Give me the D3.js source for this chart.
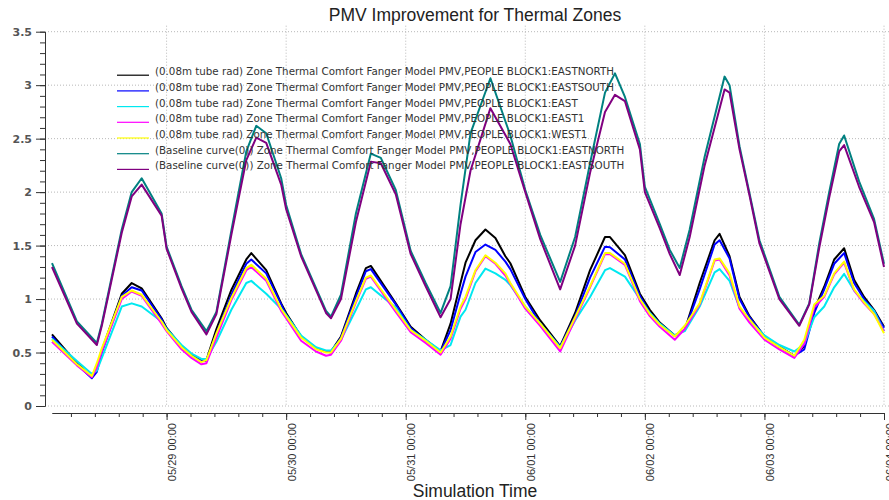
<!DOCTYPE html>
<html>
<head>
<meta charset="UTF-8">
<title>PMV Improvement for Thermal Zones</title>
<script src="https://d3js.org/d3.v7.min.js"></script>
<style>
    body {
        margin: 0;
        background: #fff;
    }

    svg {
        display: block;
        font-family: "Liberation Sans", Arial, sans-serif;
    }

    .grid line {
        stroke: #b8b8b8;
        stroke-dasharray: 1 2;
    }

    .axis path,
    .axis line {
        stroke: #333;
    }

    .axis text {
        fill: #333;
    }

    .axis-y text {
        font-family: "DejaVu Sans", Verdana, sans-serif;
        font-weight: bold;
        font-size: 11px;
        fill: #555;
    }

    .axis-x text {
        font-size: 11px;
    }

    .legend text {
        font-family: "DejaVu Sans", Verdana, sans-serif;
        font-size: 10.3px;
        fill: #333;
    }

    text.title {
        font-size: 17.5px;
        fill: #222;
    }

    text.label {
        font-size: 17.5px;
        fill: #222;
    }

    .series {
        fill: none;
        stroke-width: 2;
        stroke-linejoin: round;
    }
</style>
</head>
<body>
<svg width="889" height="500"></svg>
<script>
    // hours after 05/28 00:00
    const hoursTube = [1, 6, 9, 10, 11, 15, 17, 19, 23, 24, 27, 29, 31, 32, 34, 37, 40, 41, 44, 47, 48, 51, 54, 56, 57, 59,
        62, 64, 65, 70, 73, 76, 79, 81, 83, 84, 86, 88, 90, 92, 93, 96, 99, 103, 106, 109, 112, 113, 116, 119, 121, 123,
        126, 128, 131, 134, 135, 137, 139, 141, 144, 147, 150, 152, 154, 156, 158, 160, 162, 164, 166, 168];

    const tubeEastNorth = [0.67, 0.40, 0.27, 0.35, 0.52, 1.05, 1.15, 1.10, 0.82, 0.73, 0.56, 0.48, 0.42, 0.43, 0.72, 1.085,
        1.37, 1.43, 1.27, 0.96, 0.87, 0.65, 0.54, 0.51, 0.51, 0.65, 1.05, 1.29, 1.31, 0.96, 0.74, 0.62, 0.51, 0.77, 1.15,
        1.34, 1.55, 1.65, 1.57, 1.40, 1.335, 1.02, 0.80, 0.56, 0.87, 1.27, 1.58, 1.58, 1.41, 1.05, 0.90, 0.78, 0.66, 0.71,
        1.15, 1.55, 1.61, 1.40, 1.02, 0.84, 0.65, 0.555, 0.47, 0.56, 0.90, 1.115, 1.37, 1.475, 1.18, 1.02, 0.90, 0.74];
    const tubeEastSouth = [0.65, 0.39, 0.26, 0.32, 0.50, 1.03, 1.11, 1.08, 0.81, 0.72, 0.55, 0.47, 0.42, 0.42, 0.68, 1.04,
        1.33, 1.37, 1.24, 0.95, 0.85, 0.65, 0.54, 0.51, 0.50, 0.64, 1.02, 1.26, 1.28, 0.95, 0.73, 0.61, 0.51, 0.71, 1.05,
        1.21, 1.44, 1.51, 1.46, 1.35, 1.28, 1.00, 0.77, 0.555, 0.84, 1.20, 1.49, 1.485, 1.37, 1.03, 0.87, 0.77, 0.655, 0.71,
        1.09, 1.51, 1.55, 1.38, 1.00, 0.83, 0.65, 0.55, 0.47, 0.53, 0.87, 1.09, 1.33, 1.43, 1.15, 1.00, 0.89, 0.73];
    const tubeEast = [0.63, 0.42, 0.30, 0.33, 0.45, 0.93, 0.96, 0.93, 0.79, 0.72, 0.57, 0.49, 0.44, 0.44, 0.60, 0.90,
        1.15, 1.17, 1.05, 0.91, 0.85, 0.66, 0.55, 0.52, 0.52, 0.62, 0.90, 1.09, 1.11, 0.92, 0.71, 0.62, 0.52, 0.57, 0.835,
        0.90, 1.15, 1.285, 1.24, 1.18, 1.13, 0.93, 0.77, 0.55, 0.80, 1.02, 1.27, 1.29, 1.21, 1.00, 0.87, 0.77, 0.66, 0.70,
        0.93, 1.25, 1.28, 1.17, 0.92, 0.80, 0.66, 0.57, 0.51, 0.58, 0.83, 0.93, 1.11, 1.235, 1.08, 0.98, 0.89, 0.70];
    const tubeEast1 = [0.60, 0.38, 0.27, 0.36, 0.51, 1.00, 1.07, 1.03, 0.77, 0.70, 0.53, 0.45, 0.39, 0.40, 0.64, 0.99,
        1.27, 1.30, 1.17, 0.89, 0.82, 0.61, 0.51, 0.47, 0.48, 0.61, 0.97, 1.19, 1.21, 0.88, 0.69, 0.59, 0.48, 0.63, 0.91,
        1.00, 1.26, 1.40, 1.33, 1.22, 1.14, 0.91, 0.75, 0.51, 0.81, 1.11, 1.42, 1.42, 1.32, 0.98, 0.84, 0.74, 0.62, 0.72,
        0.95, 1.36, 1.37, 1.22, 0.91, 0.78, 0.62, 0.53, 0.45, 0.58, 0.92, 1.02, 1.23, 1.34, 1.08, 0.96, 0.86, 0.70];
    const tubeWest1 = [0.62, 0.39, 0.28, 0.40, 0.54, 1.02, 1.08, 1.04, 0.79, 0.71, 0.55, 0.47, 0.41, 0.43, 0.68, 1.01,
        1.29, 1.32, 1.19, 0.91, 0.84, 0.64, 0.53, 0.50, 0.50, 0.63, 0.98, 1.20, 1.22, 0.90, 0.71, 0.61, 0.50, 0.65, 0.93,
        1.02, 1.27, 1.41, 1.34, 1.24, 1.15, 0.93, 0.77, 0.54, 0.83, 1.12, 1.43, 1.43, 1.33, 1.00, 0.86, 0.76, 0.65, 0.75,
        0.96, 1.37, 1.38, 1.24, 0.93, 0.81, 0.64, 0.55, 0.47, 0.62, 0.95, 1.03, 1.24, 1.35, 1.09, 0.97, 0.86, 0.68];

    const hoursBase = [1, 6, 10, 11, 15, 17, 19, 23, 24, 27, 29, 32, 34, 37, 40, 42, 44, 47, 48, 51, 56, 57, 59, 62, 65,
        67, 70, 73, 76, 79, 81, 83, 85, 89, 93, 96, 99, 103, 106, 109, 112, 114, 116, 119, 120, 123, 125, 127, 129, 132,
        136, 137, 139, 141, 143, 147, 151, 153, 155, 157, 159, 160, 163, 166, 168];

    const baseEastNorth = [1.335, 0.79, 0.59, 0.77, 1.65, 2.0, 2.13, 1.80, 1.49, 1.12, 0.90, 0.70, 0.88, 1.64, 2.38, 2.62,
        2.55, 2.13, 1.88, 1.42, 0.89, 0.835, 1.04, 1.80, 2.36, 2.32, 2.02, 1.45, 1.15, 0.87, 1.12, 1.88, 2.55, 3.065, 2.53,
        2.02, 1.60, 1.16, 1.58, 2.27, 2.93, 3.11, 2.89, 2.45, 2.05, 1.70, 1.46, 1.29, 1.65, 2.33, 3.08, 3.0, 2.43, 1.99,
        1.55, 1.02, 0.76, 0.96, 1.52, 2.0, 2.45, 2.53, 2.1, 1.75, 1.33];
    const baseEastSouth = [1.30, 0.77, 0.57, 0.75, 1.62, 1.96, 2.07, 1.78, 1.47, 1.10, 0.88, 0.67, 0.86, 1.60, 2.30, 2.51,
        2.46, 2.07, 1.84, 1.40, 0.87, 0.82, 1.0, 1.72, 2.285, 2.27, 1.98, 1.42, 1.12, 0.83, 1.0, 1.70, 2.2, 2.785, 2.45,
        2.0, 1.56, 1.09, 1.50, 2.18, 2.75, 2.91, 2.85, 2.40, 2.0, 1.66, 1.42, 1.225, 1.58, 2.25, 2.96, 2.93, 2.40, 1.97,
        1.52, 1.0, 0.75, 0.95, 1.48, 1.95, 2.38, 2.44, 2.05, 1.72, 1.30];

    const seriesNames = [
        "(0.08m tube rad) Zone Thermal Comfort Fanger Model PMV,PEOPLE BLOCK1:EASTNORTH",
        "(0.08m tube rad) Zone Thermal Comfort Fanger Model PMV,PEOPLE BLOCK1:EASTSOUTH",
        "(0.08m tube rad) Zone Thermal Comfort Fanger Model PMV,PEOPLE BLOCK1:EAST",
        "(0.08m tube rad) Zone Thermal Comfort Fanger Model PMV,PEOPLE BLOCK1:EAST1",
        "(0.08m tube rad) Zone Thermal Comfort Fanger Model PMV,PEOPLE BLOCK1:WEST1",
        "(Baseline curve(0)) Zone Thermal Comfort Fanger Model PMV,PEOPLE BLOCK1:EASTNORTH",
        "(Baseline curve(0)) Zone Thermal Comfort Fanger Model PMV,PEOPLE BLOCK1:EASTSOUTH"
    ];
    const dayTicks = ["05/29", "05/30", "05/31", "06/01", "06/02", "06/03", "06/04"];
    const yTicks = [0, 0.5, 1, 1.5, 2, 2.5, 3, 3.5];

    const colours = ["#000000", "#0000ff", "#00e8f0", "#ff00ff", "#ffff00", "#008080", "#800080"];

    const start = new Date(2013, 4, 28, 0, 0);
    const toDate = h => new Date(start.getTime() + h * 3600 * 1000);
    const seriesValues = [tubeEastNorth, tubeEastSouth, tubeEast, tubeEast1, tubeWest1, baseEastNorth, baseEastSouth];
    const seriesHours = [hoursTube, hoursTube, hoursTube, hoursTube, hoursTube, hoursBase, hoursBase];
    const series = seriesNames.map((name, i) => ({
        name: name,
        colour: colours[i],
        points: seriesValues[i].map((v, j) => ({ t: toDate(seriesHours[i][j]), v: v }))
    }));

    const parseDay = d3.timeParse("%Y/%m/%d");
    const dayDates = dayTicks.map(d => parseDay("2013/" + d));

    const svg = d3.select("svg"),
        plotLeft = 45, plotTop = 31.7, plotBottom = 406, plotRight = 889,
        x = d3.scaleTime().domain([toDate(1), toDate(168)]).range([52, 884]),
        y = d3.scaleLinear().domain([0, 3.5]).range([plotBottom, plotTop]);

    // grid
    const grid = svg.append("g").attr("class", "grid");
    grid.selectAll(".h").data(yTicks).enter().append("line")
        .attr("x1", plotLeft).attr("x2", plotRight)
        .attr("y1", d => y(d)).attr("y2", d => y(d));
    grid.selectAll(".v").data(dayDates).enter().append("line")
        .attr("x1", d => x(d)).attr("x2", d => x(d))
        .attr("y1", plotTop - 6).attr("y2", plotBottom);

    // y axis
    svg.append("g")
        .attr("class", "axis axis-y")
        .attr("transform", `translate(${plotLeft},0)`)
        .call(d3.axisLeft(y).tickValues(d3.range(0, 3.51, 0.1)).tickSize(5).tickSizeOuter(0).tickFormat(""));
    svg.append("g")
        .attr("class", "axis axis-y")
        .attr("transform", `translate(${plotLeft},0)`)
        .call(d3.axisLeft(y).tickValues(yTicks).tickSize(9).tickSizeOuter(0).tickPadding(4).tickFormat(d3.format("")));

    // x axis
    const axisY = 413;
    const minor = [];
    for (let k = 1; k < 35; k++) minor.push(new Date(dayDates[0].getTime() - 24 * 3600 * 1000 + k * 4.8 * 3600 * 1000));
    svg.append("g")
        .attr("class", "axis axis-x")
        .attr("transform", `translate(0,${axisY})`)
        .call(d3.axisBottom(x).tickValues(minor.filter(d => d >= x.domain()[0] && d <= x.domain()[1]))
            .tickSize(4).tickSizeOuter(0).tickFormat(""));
    svg.append("g")
        .attr("class", "axis axis-x")
        .attr("transform", `translate(0,${axisY})`)
        .call(d3.axisBottom(x).tickValues(dayDates).tickSize(7).tickSizeOuter(0).tickFormat(d3.timeFormat("%m/%d %H:%M")))
        .selectAll("text")
        .attr("transform", "rotate(-90)")
        .attr("text-anchor", "end")
        .attr("x", -10)
        .attr("y", 9)
        .attr("dy", 0);

    // lines
    const line = d3.line().x(d => x(d.t)).y(d => y(d.v));
    svg.append("g").selectAll("path")
        .data(series)
        .enter().append("path")
        .attr("class", "series")
        .attr("stroke", d => d.colour)
        .attr("d", d => line(d.points));

    // legend
    const legend = svg.append("g").attr("class", "legend").attr("transform", "translate(117,71.7)");
    const item = legend.selectAll("g").data(series).enter().append("g")
        .attr("transform", (d, i) => `translate(0,${i * 15.7})`);
    item.append("line")
        .attr("x1", 0).attr("x2", 32).attr("y1", 3.5).attr("y2", 3.5)
        .attr("stroke", d => d.colour).attr("stroke-width", 1.2);
    item.append("text")
        .attr("x", 38).attr("y", 3.5)
        .text(d => d.name);

    svg.append("text")
        .attr("class", "title")
        .attr("x", 475).attr("y", 21)
        .attr("text-anchor", "middle")
        .text("PMV Improvement for Thermal Zones");

    svg.append("text")
        .attr("class", "label")
        .attr("x", 475).attr("y", 497)
        .attr("text-anchor", "middle")
        .text("Simulation Time");
</script>
</body>
</html>
